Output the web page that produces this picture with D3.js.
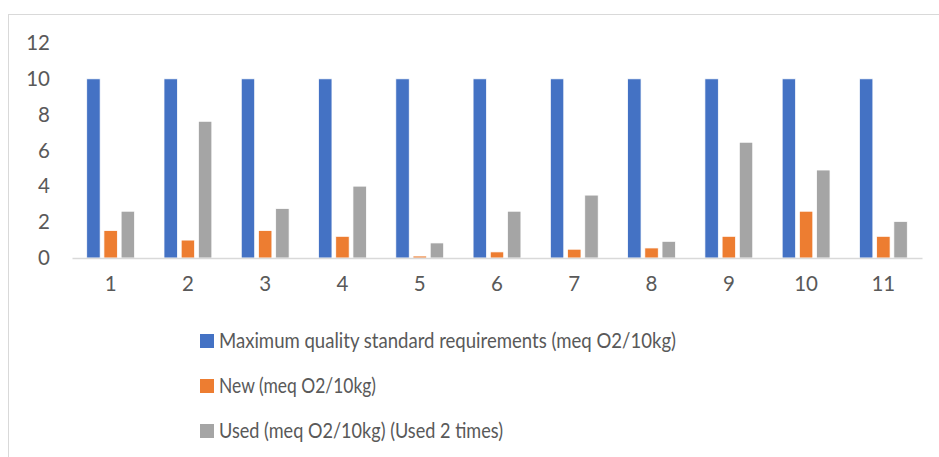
<!DOCTYPE html>
<html>
<head>
<meta charset="utf-8">
<script src="https://cdn.jsdelivr.net/npm/d3@7"></script>
<style>
  html, body { margin: 0; padding: 0; background: #fff; }
  svg { display: block; }
  text { font-family: Lato, "Open Sans", sans-serif; fill: #595959; }
</style>
</head>
<body>
<svg id="chart" width="939" height="457"></svg>
<script>
const categories = ["1","2","3","4","5","6","7","8","9","10","11"];
const seriesNames = [
  "Maximum quality standard requirements (meq O2/10kg)",
  "New (meq O2/10kg)",
  "Used (meq O2/10kg) (Used 2 times)"
];
const maxStandard = [10,10,10,10,10,10,10,10,10,10,10];
const newValues   = [1.53,1.0,1.53,1.21,0.11,0.34,0.49,0.56,1.21,2.61,1.21];
const usedValues  = [2.61,7.63,2.76,4.01,0.84,2.61,3.51,0.93,6.46,4.91,2.04];
const yTicks = [0,2,4,6,8,10,12];
const colors = ["#4472C4","#ED7D31","#A5A5A5"];

const seriesValues = [maxStandard, newValues, usedValues];

const svg = d3.select("#chart");

// chart frame
svg.append("rect")
  .attr("x", 8.5).attr("y", 14.5)
  .attr("width", 1000).attr("height", 1000)
  .attr("fill", "none").attr("stroke", "#d9d9d9").attr("stroke-width", 1);

const plot = { left: 72, right: 922, top: 43, bottom: 258 };

const y = d3.scaleLinear().domain([0, 12]).range([plot.bottom, plot.top]);
const x0 = d3.scaleBand().domain(categories)
  .range([plot.left, plot.right]).paddingInner(0.381).paddingOuter(0.1905);
const x1 = d3.scaleBand().domain(d3.range(3))
  .range([0, x0.bandwidth()]).paddingInner(0.22);

// y axis labels
const yAxis = d3.axisLeft(y).tickValues(yTicks).tickSize(0).tickPadding(0);
const yg = svg.append("g").attr("transform", `translate(50,0)`).call(yAxis);
yg.select(".domain").remove();
yg.selectAll("text").attr("font-size", 20.5).style("font-family", "Lato, 'Open Sans', sans-serif").attr("fill", "#595959");

// bars
const groups = svg.append("g").selectAll("g")
  .data(categories)
  .join("g")
  .attr("transform", d => `translate(${x0(d)},0)`);

groups.selectAll("rect")
  .data((d, i) => seriesValues.map((s, k) => ({ k, v: s[i] })))
  .join("rect")
  .attr("x", d => x1(d.k))
  .attr("width", x1.bandwidth())
  .attr("y", d => y(d.v))
  .attr("height", d => y(0) - y(d.v))
  .attr("fill", d => colors[d.k])
  .attr("stroke", "#ffffff")
  .attr("stroke-width", 0.75);

// x axis baseline + labels
const xAxis = d3.axisBottom(x0).tickSize(0).tickPadding(18);
const xg = svg.append("g").attr("transform", `translate(0,${plot.bottom})`).call(xAxis);
xg.select(".domain").attr("stroke", "#d9d9d9").attr("stroke-width", 1.5);
xg.selectAll("text").attr("font-size", 20.5).style("font-family", "Lato, 'Open Sans', sans-serif").attr("fill", "#595959");

// legend
const legendRows = [341, 386, 431];
const legendWidths = [457, 157, 284];
const lg = svg.append("g");
seriesNames.forEach((name, k) => {
  lg.append("rect")
    .attr("x", 200).attr("y", legendRows[k] - 7)
    .attr("width", 14).attr("height", 14)
    .attr("fill", colors[k]);
  lg.append("text")
    .attr("x", 219).attr("y", legendRows[k])
    .attr("dy", "0.35em")
    .attr("font-size", 21)
    .attr("textLength", legendWidths[k])
    .attr("lengthAdjust", "spacingAndGlyphs")
    .text(name);
});
</script>
</body>
</html>
